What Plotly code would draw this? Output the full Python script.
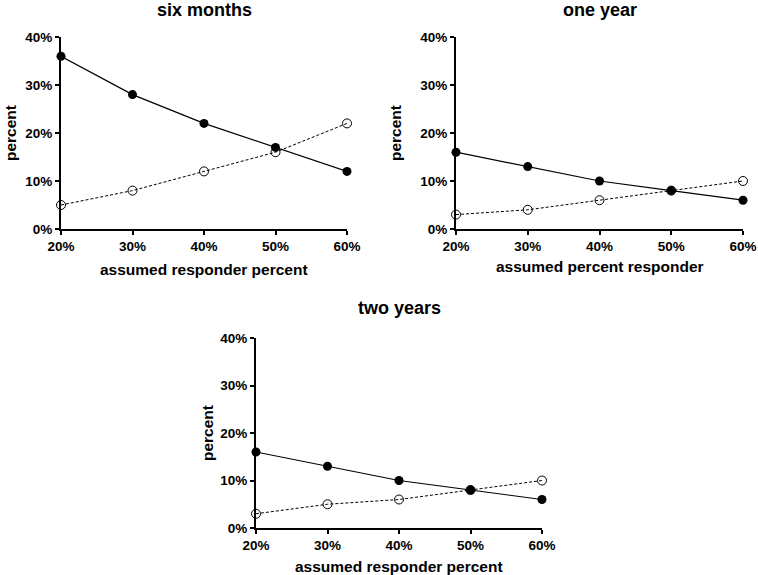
import plotly.graph_objects as go

x_vals = [20, 30, 40, 50, 60]
six_filled = [36, 28, 22, 17, 12]
six_open = [5, 8, 12, 16, 22]
one_filled = [16, 13, 10, 8, 6]
one_open = [3, 4, 6, 8, 10]
two_filled = [16, 13, 10, 8, 6]
two_open = [3, 5, 6, 8, 10]

titles = ["six months", "one year", "two years"]
xtitles = ["assumed responder percent", "assumed percent responder", "assumed responder percent"]
xticks = [20, 30, 40, 50, 60]
xticklabels = ["20%", "30%", "40%", "50%", "60%"]
yticks = [0, 10, 20, 30, 40]
yticklabels = ["0%", "10%", "20%", "30%", "40%"]

W, H = 758, 575
# pixel boxes: (left, right, top, bottom)
boxes = [(61, 347, 37, 229), (456, 743, 37, 229), (256, 542, 338, 528)]
series = [(six_filled, six_open), (one_filled, one_open), (two_filled, two_open)]
title_y = [10, 10, 308]
xtitle_y = [269, 267, 566]
ytitle_x = [10, 395, 207]

FONT = "Liberation Sans, Arial, sans-serif"
fig = go.Figure()
annotations = []
for i, ((l, r, t, b), (filled, opn)) in enumerate(zip(boxes, series)):
    n = "" if i == 0 else str(i + 1)
    xa, ya = "x" + n, "y" + n
    fig.add_trace(go.Scatter(x=x_vals, y=opn, xaxis=xa, yaxis=ya, mode="lines+markers",
                             line=dict(color="black", width=1, dash="3px,2px"),
                             marker=dict(symbol="circle-open", size=9, color="black", line=dict(width=1)),
                             cliponaxis=False, showlegend=False))
    fig.add_trace(go.Scatter(x=x_vals, y=filled, xaxis=xa, yaxis=ya, mode="lines+markers",
                             line=dict(color="black", width=1.2),
                             marker=dict(symbol="circle", size=9, color="black"),
                             cliponaxis=False, showlegend=False))
    axcommon = dict(showgrid=False, zeroline=False, showline=True, linecolor="black", linewidth=2,
                    ticks="outside", ticklen=4, tickwidth=2, tickcolor="black", automargin=False,
                    tickfont=dict(family=FONT, size=13.5, color="black", weight="bold"))
    fig.layout["xaxis" + n] = dict(domain=[l / W, r / W], range=[20, 60], anchor=ya,
                                   tickvals=xticks, ticktext=xticklabels, **axcommon)
    fig.layout["yaxis" + n] = dict(domain=[1 - b / H, 1 - t / H], range=[0, 40], anchor=xa,
                                   tickvals=yticks, ticktext=yticklabels, **axcommon)
    cx = (l + r) / 2 / W
    annotations.append(dict(text="<b>" + titles[i] + "</b>", x=cx, y=1 - title_y[i] / H, xref="paper", yref="paper",
                            showarrow=False, font=dict(family=FONT, size=18, color="black"),
                            xanchor="center", yanchor="middle"))
    annotations.append(dict(text="<b>" + xtitles[i] + "</b>", x=cx, y=1 - xtitle_y[i] / H, xref="paper", yref="paper",
                            showarrow=False, font=dict(family=FONT, size=15.5, color="black"),
                            xanchor="center", yanchor="middle"))
    annotations.append(dict(text="<b>percent</b>", x=ytitle_x[i] / W, y=1 - (t + b) / 2 / H, xref="paper", yref="paper",
                            showarrow=False, textangle=-90, font=dict(family=FONT, size=15.5, color="black"),
                            xanchor="center", yanchor="middle"))

fig.update_layout(width=W, height=H, margin=dict(l=0, r=0, t=0, b=0, autoexpand=False), plot_bgcolor="white",
                  paper_bgcolor="white", annotations=annotations, hovermode=False)
fig.write_html("out.html", config={"displayModeBar": False},
               post_script="document.body.style.margin='0';document.body.style.overflow='hidden';")
